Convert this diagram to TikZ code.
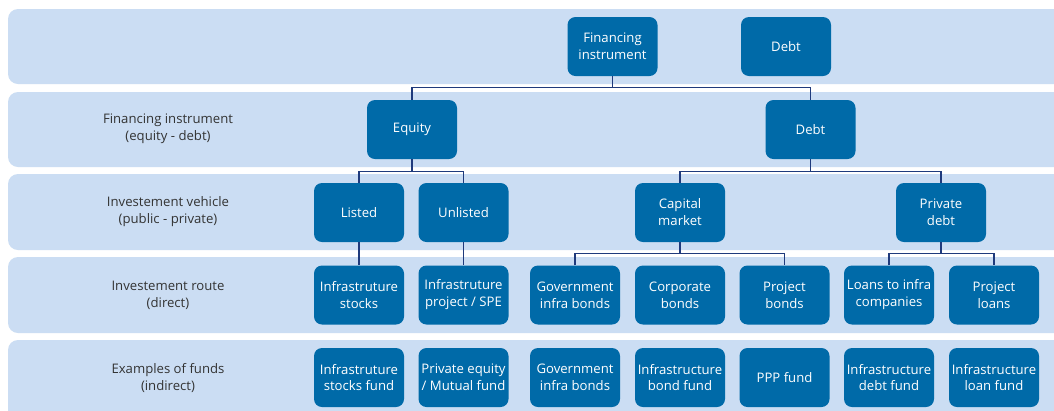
\documentclass[tikz,border=0pt]{standalone}
\usepackage{fontspec}
\setmainfont{Open Sans}
\definecolor{bandblue}{HTML}{CBDDF3}
\definecolor{boxblue}{HTML}{006AA8}
\definecolor{linkblue}{HTML}{1F3A7C}
\definecolor{labelgray}{HTML}{333333}
\tikzset{
  band/.style={fill=bandblue, rounded corners=10bp},
  boxnode/.style={fill=boxblue, text=white, rounded corners=8bp, minimum width=90bp, minimum height=59bp, inner sep=0pt, align=center, font=\fontsize{13.2}{17}\selectfont},
  rowlabel/.style={text=labelgray, align=center, font=\fontsize{13.2}{17}\selectfont},
  link/.style={draw=linkblue, line width=1.4bp}
}
\begin{document}
\begin{tikzpicture}[x=1bp,y=-1bp]
\useasboundingbox (0,0) rectangle (1054,410);
\clip (0,0) rectangle (1054,410);
\fill[white] (0,0) rectangle (1054,410);
% bands
\fill[band] (8,9) rectangle (1075,84);
\fill[band] (8,92) rectangle (1075,167);
\fill[band] (8,174) rectangle (1075,250);
\fill[band] (8,257) rectangle (1075,333);
\fill[band] (8,340) rectangle (1075,430);
% row labels
\node[rowlabel] (l2) at (168,129) {Financing instrument\\(equity - debt)};
\node[rowlabel] (l3) at (168,212) {Investement vehicle\\(public - private)};
\node[rowlabel] (l4) at (168,295) {Investement route\\(direct)};
\node[rowlabel] (l5) at (168,378) {Examples of funds\\(indirect)};
% row 1
\node[boxnode] (fi) at (612.5,46.5) {Financing\\instrument};
\node[boxnode] (debttop) at (786,46.5) {Debt};
% row 2
\node[boxnode] (equity) at (412,129.5) {Equity};
\node[boxnode] (debt) at (810.5,129.5) {Debt};
% row 3
\node[boxnode] (listed) at (359,212.5) {Listed};
\node[boxnode] (unlisted) at (463.5,212.5) {Unlisted};
\node[boxnode] (capital) at (680,212.5) {Capital\\market};
\node[boxnode] (private) at (941,212.5) {Private\\debt};
% row 4
\node[boxnode] (stocks) at (359,295) {Infrastruture\\stocks};
\node[boxnode] (project) at (463.5,295) {Infrastruture\\project / SPE};
\node[boxnode] (gov) at (575,295) {Government\\infra bonds};
\node[boxnode] (corp) at (680,295) {Corporate\\bonds};
\node[boxnode] (pbonds) at (784.5,295) {Project\\bonds};
\node[boxnode] (loans) at (889,295) {Loans to infra\\companies};
\node[boxnode] (ploans) at (994,295) {Project\\loans};
% row 5
\node[boxnode] (f1) at (359,377.5) {Infrastruture\\stocks fund};
\node[boxnode] (f2) at (463.5,377.5) {Private equity\\/ Mutual fund};
\node[boxnode] (f3) at (575,377.5) {Government\\infra bonds};
\node[boxnode] (f4) at (680,377.5) {Infrastructure\\bond fund};
\node[boxnode] (f5) at (784.5,377.5) {PPP fund};
\node[boxnode] (f6) at (889,377.5) {Infrastructure\\debt fund};
\node[boxnode] (f7) at (994,377.5) {Infrastructure\\loan fund};
% connectors
\draw[link] (fi.south) -- ++(0,11.5) coordinate (j1);
\draw[link] (equity.north) |- (j1) -| (debt.north);
\draw[link] (equity.south) -- ++(0,12) coordinate (j2);
\draw[link] (listed.north) |- (j2) -| (unlisted.north);
\draw[link] (debt.south) -- ++(0,12) coordinate (j3);
\draw[link] (capital.north) |- (j3) -| (private.north);
\draw[link] (listed.south) -- (stocks.north);
\draw[link] (unlisted.south) -- (project.north);
\draw[link] (capital.south) -- ++(0,11) coordinate (j4);
\draw[link] (gov.north) |- (j4) -| (pbonds.north);
\draw[link] (private.south) -- ++(0,11) coordinate (j5);
\draw[link] (loans.north) |- (j5) -| (ploans.north);
\end{tikzpicture}
\end{document}
